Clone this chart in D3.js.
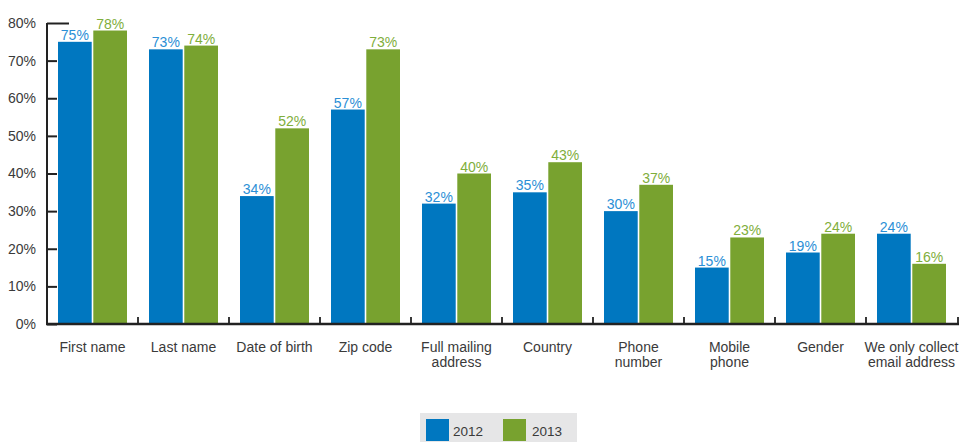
<!DOCTYPE html>
<html>
<head>
<meta charset="utf-8">
<script src="https://cdn.jsdelivr.net/npm/d3@7"></script>
<style>
  body { margin: 0; background: #fff; }
  text { font-family: 'Liberation Sans', Arial, sans-serif; }
</style>
</head>
<body>
<svg id="chart"></svg>
<script>
const categories = [
  ['First name'], ['Last name'], ['Date of birth'], ['Zip code'],
  ['Full mailing', 'address'], ['Country'], ['Phone', 'number'],
  ['Mobile', 'phone'], ['Gender'], ['We only collect', 'email address']
]
const years = ['2012', '2013']
const values2012 = [75, 73, 34, 57, 32, 35, 30, 15, 19, 24]
const values2013 = [78, 74, 52, 73, 40, 43, 37, 23, 24, 16]
const yTicks = [0, 10, 20, 30, 40, 50, 60, 70, 80]

const width = 964
const height = 442
const plotLeft = 47
const plotRight = 957
const plotTop = 23
const plotBottom = 324
const barColors = ['#0077c0', '#78a22f']
const labelColors = ['#2b8fd6', '#7fae3c']
const textColor = '#3a3a3a'

const svg = d3.select('#chart')
  .attr('width', width)
  .attr('height', height)

const x = d3.scaleBand()
  .domain(d3.range(categories.length))
  .range([plotLeft, plotRight])
  .paddingInner(0)
  .paddingOuter(0)
const xInner = d3.scaleBand()
  .domain(years)
  .range([11, x.bandwidth() - 11])
  .paddingInner(0.045)
const y = d3.scaleLinear()
  .domain([0, 80])
  .range([plotBottom, plotTop])

const series = [values2012, values2013]

const groups = svg.append('g')
  .selectAll('g.cat')
  .data(categories)
  .enter()
  .append('g')
  .classed('cat', true)
  .attr('transform', (d, i) => 'translate(' + x(i) + ',0)')

years.forEach((yr, s) => {
  groups.append('rect')
    .attr('x', xInner(yr))
    .attr('y', (d, i) => y(series[s][i]))
    .attr('width', xInner.bandwidth())
    .attr('height', (d, i) => plotBottom - y(series[s][i]))
    .attr('fill', barColors[s])
  groups.append('text')
    .attr('x', xInner(yr) + xInner.bandwidth() / 2)
    .attr('y', (d, i) => y(series[s][i]) - 2)
    .attr('text-anchor', 'middle')
    .attr('font-size', 14)
    .attr('fill', labelColors[s])
    .text((d, i) => series[s][i] + '%')
})

// category labels
groups.append('text')
  .attr('x', x.bandwidth() / 2)
  .attr('y', 352)
  .attr('text-anchor', 'middle')
  .attr('font-size', 14)
  .attr('fill', textColor)
  .selectAll('tspan')
  .data((d) => d)
  .enter()
  .append('tspan')
  .attr('x', x.bandwidth() / 2)
  .attr('dy', (d, i) => i === 0 ? 0 : 15)
  .text((d) => d)

// y axis
const yAxis = svg.append('g')
  .attr('transform', 'translate(' + plotLeft + ',0)')
  .call(d3.axisRight(y).tickValues(yTicks).tickSize(10).tickFormat((d) => d + '%'))
yAxis.select('path.domain').remove()
yAxis.selectAll('g.tick line')
  .attr('stroke', '#222')
  .attr('stroke-width', 2)
  .attr('x2', (d) => d === 80 ? 22 : 10)
yAxis.selectAll('g.tick text')
  .attr('x', -11)
  .attr('text-anchor', 'end')
  .attr('font-size', 14)
  .attr('fill', textColor)
  .attr('font-family', "'Liberation Sans', Arial, sans-serif")
svg.append('line')
  .attr('x1', plotLeft).attr('x2', plotLeft)
  .attr('y1', plotTop).attr('y2', plotBottom + 1)
  .attr('stroke', '#222').attr('stroke-width', 2)

// x axis
svg.append('line')
  .attr('x1', plotLeft - 1).attr('x2', plotRight + 2)
  .attr('y1', plotBottom).attr('y2', plotBottom)
  .attr('stroke', '#222').attr('stroke-width', 2.3)
svg.append('g')
  .selectAll('line')
  .data(d3.range(1, categories.length + 1))
  .enter()
  .append('line')
  .attr('x1', (d) => d < categories.length ? x(d) : plotRight + 1)
  .attr('x2', (d) => d < categories.length ? x(d) : plotRight + 1)
  .attr('y1', plotBottom)
  .attr('y2', plotBottom - 7)
  .attr('stroke', '#222').attr('stroke-width', 1.8)

// legend
const legend = svg.append('g')
  .attr('transform', 'translate(420,413)')
legend.append('rect')
  .attr('width', 157)
  .attr('height', 29)
  .attr('fill', '#e6e6e7')
years.forEach((yr, s) => {
  legend.append('rect')
    .attr('x', 6 + s * 77)
    .attr('y', 6)
    .attr('width', 23)
    .attr('height', 22)
    .attr('fill', barColors[s])
  legend.append('text')
    .attr('x', 33 + s * 79)
    .attr('y', 23)
    .attr('font-size', 13.5)
    .attr('fill', textColor)
    .text(yr)
})
</script>
</body>
</html>
